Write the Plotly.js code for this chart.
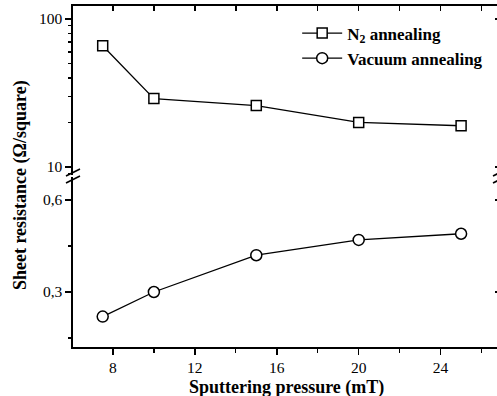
<!DOCTYPE html>
<html>
<head>
<meta charset="utf-8">
<script src="https://cdn.plot.ly/plotly-3.0.1.min.js"></script>
<style>
html,body{margin:0;padding:0;overflow:hidden;background:#fff;}
#chart{width:505px;height:396px;}
</style>
</head>
<body>
<div id="chart"></div>
<script>
// Data
const pressure = [7.5, 10, 15, 20, 25];
const n2Annealing = [66, 29, 26, 20, 19];
const vacuumAnnealing = [0.22, 0.30, 0.42, 0.47, 0.49];
const seriesNames = ['N<sub>2</sub> annealing', 'Vacuum annealing'];
const lowTickVals = [0.3, 0.6];
const lowTickText = ['0,3', '0,6'];
const highTickVals = [10, 100];
const highTickText = ['10', '100'];
const xTitle = '<b>Sputtering pressure (mT)</b>';
const yTitle = '<b>Sheet resistance (\u03A9/square)</b>';

const serif = 'Liberation Serif';
const black = '#000';

const traces = [
  {
    x: pressure, y: n2Annealing, xaxis: 'x2', yaxis: 'y2',
    name: seriesNames[0], mode: 'lines+markers',
    line: {color: black, width: 1.3},
    marker: {symbol: 'square', size: 10, color: '#fff', line: {color: black, width: 1.5}}
  },
  {
    x: pressure, y: vacuumAnnealing, xaxis: 'x', yaxis: 'y',
    name: seriesNames[1], mode: 'lines+markers',
    line: {color: black, width: 1.3},
    marker: {symbol: 'circle', size: 11, color: '#fff', line: {color: black, width: 1.5}}
  },
  {x: [], y: [], xaxis: 'x', yaxis: 'y3', showlegend: false, hoverinfo: 'skip'},
  {x: [], y: [], xaxis: 'x2', yaxis: 'y4', showlegend: false, hoverinfo: 'skip'}
];

const xRange = [6.05, 26.9];
const lowRange = [0.1207, 0.675];
const highRange = [0.946, 2.088];
const lowDom = [0, 0.4985];
const highDom = [0.5044, 1];

const tickFont = {family: serif, size: 15.5, color: black};

const breakY = 0.5015;
function slash(xa, y0, y1) {
  return {type: 'line', xref: 'paper', yref: 'paper', xsizemode: 'pixel', ysizemode: 'pixel',
    xanchor: xa, yanchor: breakY, x0: -7, x1: 7, y0: y0, y1: y1,
    line: {color: black, width: 1.6}};
}

const layout = {
  width: 505, height: 396,
  margin: {l: 73, r: 5, t: 6, b: 49},
  paper_bgcolor: '#fff', plot_bgcolor: '#fff',
  font: {family: serif, color: black},
  separators: ', ',
  showlegend: true,
  legend: {
    x: 0.525, xanchor: 'left', y: 0.972, yanchor: 'top',
    font: {family: serif, size: 17, color: black, weight: 'bold'},
    bgcolor: 'rgba(0,0,0,0)', borderwidth: 0, itemwidth: 40,
    tracegroupgap: 0
  },
  xaxis: {
    domain: [0, 1], anchor: 'y', range: xRange, tick0: 0, dtick: 4,
    showline: true, linecolor: black, linewidth: 1.6, mirror: false,
    ticks: 'outside', ticklen: 6, tickwidth: 1.5, tickcolor: black,
    minor: {dtick: 2, ticks: 'outside', ticklen: 4, tickwidth: 1.3, tickcolor: black, showgrid: false},
    showgrid: false, zeroline: false, tickfont: tickFont
  },
  xaxis2: {
    domain: [0, 1], anchor: 'y2', side: 'top', matches: 'x', range: xRange, tick0: 0, dtick: 2,
    showline: true, linecolor: black, linewidth: 1.6,
    ticks: 'inside', ticklen: 5, tickwidth: 1.5, tickcolor: black,
    showticklabels: false, showgrid: false, zeroline: false
  },
  yaxis: {
    domain: lowDom, anchor: 'x', range: lowRange,
    tickvals: lowTickVals, ticktext: lowTickText,
    showline: true, linecolor: black, linewidth: 1.6,
    ticks: 'outside', ticklen: 6, tickwidth: 1.5, tickcolor: black,
    minor: {tick0: 0, dtick: 0.15, ticks: 'outside', ticklen: 3, tickwidth: 1.3, tickcolor: black, showgrid: false},
    showgrid: false, zeroline: false, tickfont: tickFont
  },
  yaxis2: {
    domain: highDom, anchor: 'x2', type: 'log', range: highRange,
    tickvals: highTickVals, ticktext: highTickText,
    showline: true, linecolor: black, linewidth: 1.6,
    ticks: 'outside', ticklen: 6, tickwidth: 1.5, tickcolor: black,
    minor: {dtick: 'D1', ticks: 'outside', ticklen: 3, tickwidth: 1.3, tickcolor: black, showgrid: false},
    showgrid: false, zeroline: false, tickfont: tickFont
  },
  yaxis3: {
    overlaying: 'y', side: 'right', anchor: 'x', range: lowRange,
    tickvals: lowTickVals, showticklabels: false,
    showline: true, linecolor: black, linewidth: 1.6,
    ticks: 'inside', ticklen: 5, tickwidth: 1.5, tickcolor: black,
    showgrid: false, zeroline: false
  },
  yaxis4: {
    overlaying: 'y2', side: 'right', anchor: 'x2', type: 'log', range: highRange,
    tickvals: highTickVals, showticklabels: false,
    showline: true, linecolor: black, linewidth: 1.6,
    ticks: 'inside', ticklen: 5, tickwidth: 1.5, tickcolor: black,
    showgrid: false, zeroline: false
  },
  shapes: [
    slash(0, 0, 7), slash(0, -7, 0),
    slash(1, 0, 7), slash(1, -7, 0)
  ],
  annotations: [
    {text: xTitle, xref: 'paper', yref: 'paper', x: 0.499, y: -0.118,
     xanchor: 'center', yanchor: 'middle', showarrow: false,
     font: {family: serif, size: 18, color: black}},
    {text: yTitle, xref: 'paper', yref: 'paper', x: -0.124, y: 0.475,
     xanchor: 'center', yanchor: 'middle', textangle: -90, showarrow: false,
     font: {family: serif, size: 18, color: black}}
  ]
};

Plotly.newPlot('chart', traces, layout, {displayModeBar: false, staticPlot: true});
</script>
</body>
</html>
